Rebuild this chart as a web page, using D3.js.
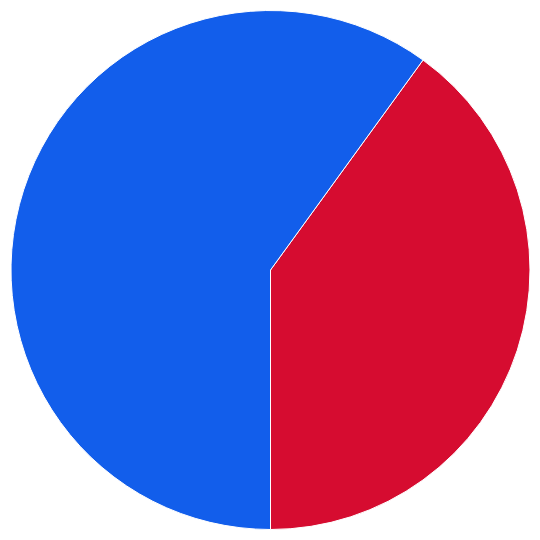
<!DOCTYPE html>
<html>
<head>
<meta charset="utf-8">
<script src="https://cdn.jsdelivr.net/npm/d3@7"></script>
<style>
  body { margin: 0; background: #fff; }
</style>
</head>
<body>
<script>
// values
const labels = ["Red", "Blue"];
const values = [40, 60];
const colors = ["#d60c30", "#125eeb"];

var width = 540, height = 540;
var cx = 270.5, cy = 270, radius = 259.5;

var svg = d3.select("body").append("svg")
    .attr("width", width)
    .attr("height", height);

var pie = d3.pie()
    .sort(null)
    .value(function(d) { return d; })
    .startAngle(Math.PI / 5)
    .endAngle(Math.PI / 5 + 2 * Math.PI);

var arc = d3.arc()
    .innerRadius(0)
    .outerRadius(radius);

var g = svg.append("g")
    .attr("transform", "translate(" + cx + "," + cy + ")");

g.selectAll("path")
    .data(pie(values))
    .enter()
    .append("path")
    .attr("d", arc)
    .attr("fill", function(d, i) { return colors[i]; })
    .attr("stroke", "#ffffff")
    .attr("stroke-width", 1)
    .append("title")
    .text(function(d, i) { return labels[i]; });
</script>
</body>
</html>
